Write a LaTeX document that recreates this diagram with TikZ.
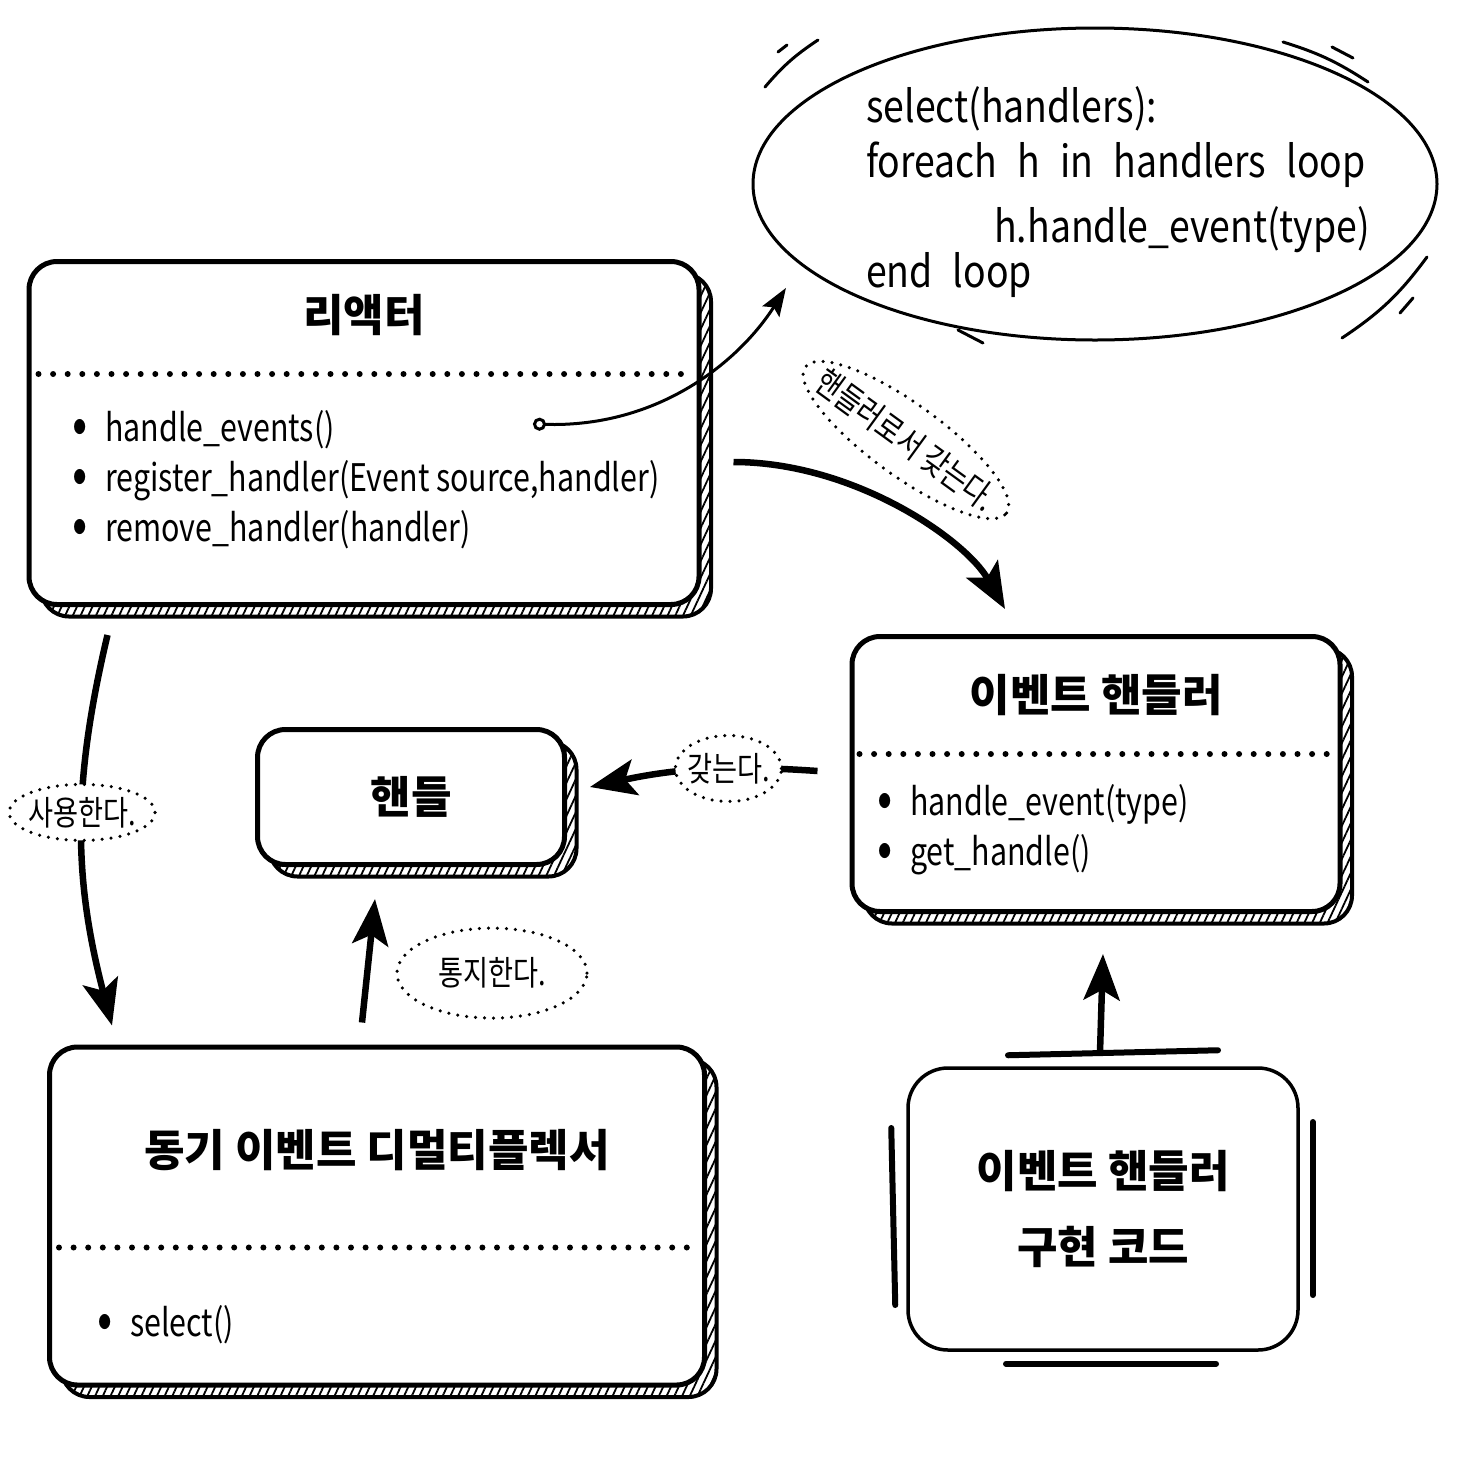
\documentclass[tikz,border=0pt]{standalone}
\usepackage{fontspec}
\setmainfont{Noto Sans CJK KR}
\newfontfamily\handfont{Noto Sans CJK KR}[FakeStretch=0.8]
\newfontfamily\codefont{Noto Sans CJK KR}[FakeStretch=0.85]
\newcommand{\bul}{\makebox[33pt][l]{\fontsize{56}{0}\selectfont\raisebox{-2pt}{•}}}
\newcommand{\codesize}{\codefont\fontsize{44}{55}\selectfont\spaceskip=20pt\relax}
\usetikzlibrary{positioning,shapes.geometric,shadows,patterns.meta,arrows.meta}

\begin{document}
\begin{tikzpicture}[x=1pt,y=-1pt,
  box/.style={draw,line width=5pt,rounded corners=28pt,fill=white,inner sep=0pt,
    font=\fontsize{44}{56}\selectfont\bfseries,
    general shadow={shadow xshift=12pt,shadow yshift=-12pt,draw,line width=4pt,
      pattern={Lines[angle=65,distance=7pt,line width=1.8pt]}}},
  implbox/.style={draw,line width=3.5pt,rounded corners=40pt,fill=white,inner sep=0pt,
    align=center,font=\fontsize{44}{76}\selectfont\bfseries},
  title/.style={font=\fontsize{44}{50}\selectfont\bfseries,inner sep=0pt},
  items/.style={font=\handfont\fontsize{38}{50}\selectfont,align=left,inner sep=0pt},
  codetext/.style={font=\codesize,align=left,inner sep=0pt},
  sepline/.style={line width=6pt,dash pattern=on 0pt off 14.6pt,line cap=round},
  dotlabel/.style={ellipse,draw,fill=white,line width=3.5pt,
    dash pattern=on 0pt off 9pt,line cap=round,inner xsep=-14pt,inner ysep=2pt,
    font=\handfont\fontsize{34}{38}\selectfont},
  flow/.style={line width=6.5pt,-{Stealth[length=46pt,width=36pt,inset=10pt]}},
  call/.style={line width=3pt,{Circle[open,length=13pt,width=13pt]}-{Stealth[length=28pt,width=20pt,inset=5pt]}},
  flick/.style={line width=3pt,line cap=round},
  bar/.style={line width=6pt,line cap=round}]
\useasboundingbox (0,0) rectangle (1468,1484);

% boxes
\node[box,minimum width=670pt,minimum height=343pt] (reactor) at (364,433) {};
\node[title] (reactortitle) at ([yshift=-56pt]reactor.north) {리액터};
\draw[sepline] ([xshift=12pt,yshift=-115pt]reactor.north west) -- ([xshift=-8pt,yshift=-115pt]reactor.north east);
\node[items,anchor=west] (reactoritems) at (72,480) {\bul handle\_events()\\\bul register\_handler(Event source,handler)\\\bul remove\_handler(handler)};

\node[box,minimum width=307pt,minimum height=135pt] (handle) at (411,797) {핸들};

\node[box,minimum width=488pt,minimum height=275pt] (evh) at (1096,774) {};
\node[title] (evhtitle) at ([yshift=-61pt]evh.north) {이벤트 핸들러};
\draw[sepline] ([xshift=10pt,yshift=-120pt]evh.north west) -- ([xshift=-8pt,yshift=-120pt]evh.north east);
\node[items,anchor=west] (evhitems) at (877,830) {\bul handle\_event(type)\\\bul get\_handle()};

\node[box,minimum width=655pt,minimum height=338pt] (demux) at (377,1216) {};
\node[title] (demuxtitle) at ([yshift=-106pt]demux.north) {동기 이벤트 디멀티플렉서};
\draw[sepline] ([xshift=12pt,yshift=-203pt]demux.north west) -- ([xshift=-8pt,yshift=-203pt]demux.north east);
\node[items,anchor=west] (demuxitems) at (97,1325) {\bul select()};

\node[implbox,minimum width=390pt,minimum height=282pt] (impl) at (1103,1209) {이벤트 핸들러\\구현 코드};
\draw[bar] ([xshift=-95pt,yshift=11pt]impl.north) -- ([xshift=115pt,yshift=16pt]impl.north);
\draw[bar] ([xshift=-97pt,yshift=-12pt]impl.south) -- ([xshift=113pt,yshift=-12pt]impl.south);
\draw[bar] ([xshift=-15pt,yshift=81pt]impl.west) -- ([xshift=-11pt,yshift=-96pt]impl.west);
\draw[bar] ([xshift=13pt,yshift=87pt]impl.east) -- ([xshift=13pt,yshift=-86pt]impl.east);

% thought bubble
\node[draw,ellipse,line width=3pt,inner sep=0pt,minimum width=684pt,minimum height=312pt] (bubble) at (1095,184) {};
\node[codetext,anchor=north west] (code) at (866,86) {select(handlers):\\foreach h in handlers loop\\[10pt]\hspace{128pt}h.handle\_event(type)\\[-10pt]end loop};
\draw[flick] (765,87) to[bend left=8] (818,40);
\draw[flick] (778,52) -- (787,45);
\draw[flick] (1283,42) to[bend left=8] (1368,82);
\draw[flick] (1332,47) -- (1353,58);
\draw[flick] (1427,257) to[bend left=10] (1342,338);
\draw[flick] (1413,298) -- (1400,313);
\draw[flick] (958,330) -- (983,343);

% connectors
\coordinate (evcall) at (533,424);
\draw[call] (evcall) .. controls (660,428) and (740,360) .. ([xshift=-40pt,yshift=-6pt]bubble.200);
\draw[flow] ([xshift=32pt,yshift=-29pt]reactor.east) .. controls +(120,0) and +(-40,-70) .. ([xshift=-91pt,yshift=25pt]evh.north);
\node[dotlabel,rotate=-36,inner xsep=-19pt,inner ysep=10pt] (holdlbl) at (906,440) {핸들러로서 갖는다.};
\draw[flow] ([xshift=-32pt,yshift=3pt]evh.west) to[bend right=8] node[dotlabel,pos=0.38,minimum width=106pt,minimum height=66pt] (haslbl) {갖는다.} ([xshift=23pt,yshift=10pt]handle.east);
\draw[flow] ([xshift=81pt,yshift=-28pt]reactor.south west) to[bend right=14] node[dotlabel,pos=0.45,minimum width=146pt,minimum height=56pt] (uselbl) {사용한다.} ([xshift=65pt,yshift=19pt]demux.north west);
\draw[flow] ([xshift=-15pt,yshift=22pt]demux.north) -- node[dotlabel,pos=0.4,right=28pt,minimum width=190pt,minimum height=90pt] (notelbl) {통지한다.} ([xshift=-36pt,yshift=-32pt]handle.south);
\draw[flow] ([xshift=-3pt,yshift=14pt]impl.north) -- ([xshift=7pt,yshift=-40pt]evh.south);
\end{tikzpicture}
\end{document}
